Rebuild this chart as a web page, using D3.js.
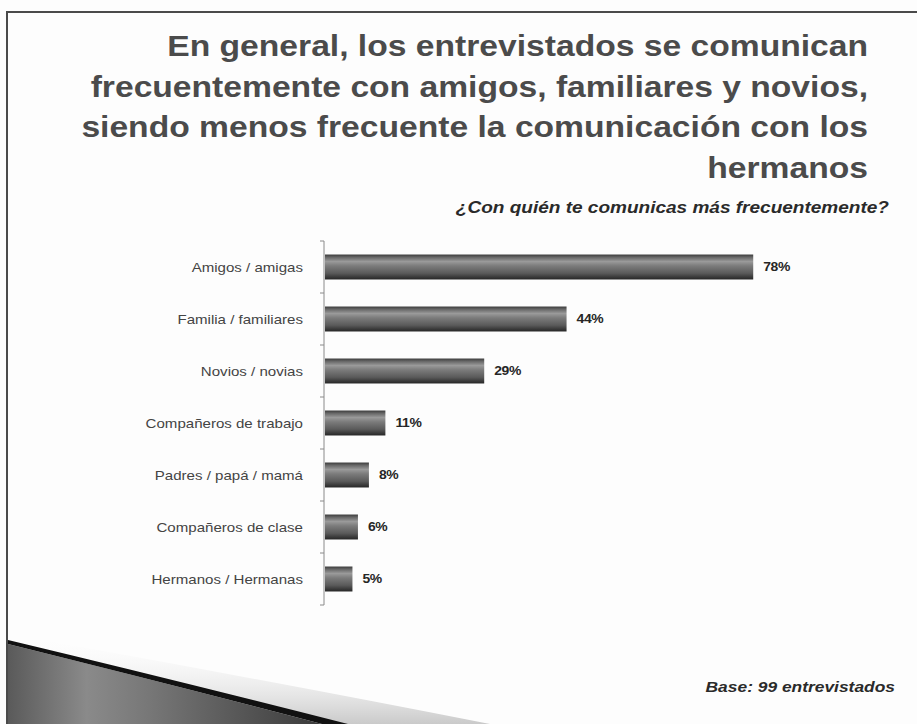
<!DOCTYPE html>
<html>
<head>
<meta charset="utf-8">
<script src="https://cdn.jsdelivr.net/npm/d3@7"></script>
<style>
  html, body { margin: 0; padding: 0; background: #fdfdfd; }
  svg { display: block; }
</style>
</head>
<body>
<svg id="chart" width="917" height="724"></svg>
<script>
// Survey answers: who respondents communicate with most often
const categories = [
  "Amigos / amigas",
  "Familia / familiares",
  "Novios / novias",
  "Compañeros de trabajo",
  "Padres / papá / mamá",
  "Compañeros de clase",
  "Hermanos / Hermanas"
];
const percentages = [78, 44, 29, 11, 8, 6, 5];

const titleLines = [
  "En general, los entrevistados se comunican",
  "frecuentemente con amigos, familiares y novios,",
  "siendo menos frecuente la comunicación con los",
  "hermanos"
];
const questionText = "¿Con quién te comunicas más frecuentemente?";
const baseText = "Base: 99 entrevistados";

const rows = categories.map((c, i) => ({ label: c, value: percentages[i] }));

const svg = d3.select("#chart");
const W = 917, H = 724;
const FONT = "'Liberation Sans', Arial, sans-serif";
// the slide's lettering is set slightly wide
const STRETCH = 1.16;
const placeText = (sel, xf, yf) =>
  sel.attr("transform", (d, i) => `translate(${xf(d, i)},${yf(d, i)}) scale(${STRETCH},1)`);

const defs = svg.append("defs");

// cylinder-like vertical shading for the bars
const barGrad = defs.append("linearGradient")
  .attr("id", "barShade").attr("x1", 0).attr("y1", 0).attr("x2", 0).attr("y2", 1);
[["0%", "#3c3c3c"], ["12%", "#6a6a6a"], ["28%", "#9a9a9a"], ["45%", "#7c7c7c"],
 ["75%", "#5a5a5a"], ["100%", "#262626"]]
  .forEach(([o, c]) => barGrad.append("stop").attr("offset", o).attr("stop-color", c));

// gradient for the decorative corner swoosh
const swGrad = defs.append("linearGradient")
  .attr("id", "swoosh").attr("x1", 0).attr("y1", 0).attr("x2", 1).attr("y2", 0);
[["0%", "#5a5a5a"], ["25%", "#8a8a8a"], ["45%", "#777"], ["100%", "#3a3a3a"]]
  .forEach(([o, c]) => swGrad.append("stop").attr("offset", o).attr("stop-color", c));

const glowGrad = defs.append("linearGradient")
  .attr("id", "glow").attr("x1", 0).attr("y1", 1).attr("x2", 0).attr("y2", 0);
[["0%", "#bdbdbd", 1], ["100%", "#ffffff", 0]]
  .forEach(([o, c, op]) => glowGrad.append("stop").attr("offset", o)
    .attr("stop-color", c).attr("stop-opacity", op));

svg.append("rect").attr("width", W).attr("height", H).attr("fill", "#fdfdfd");

// slide frame (top and left edges)
svg.append("path")
  .attr("d", "M7,724 L7,12 L917,12")
  .attr("fill", "none").attr("stroke", "#4a4a4a").attr("stroke-width", 2);

// corner swoosh
const sw = svg.append("g");
sw.append("path")
  .attr("d", "M8,634 Q240,675 490,724 L340,724 Q170,680 8,640 Z")
  .attr("fill", "url(#glow)").attr("opacity", 0.8);
sw.append("path")
  .attr("d", "M8,644 Q170,684 322,724 L8,724 Z")
  .attr("fill", "url(#swoosh)");
sw.append("path")
  .attr("d", "M8,640 Q175,680 348,724 L322,724 Q170,684 8,644 Z")
  .attr("fill", "#111");

// title
const title = svg.append("g")
  .attr("font-family", FONT)
  .attr("font-weight", "bold")
  .attr("font-size", 29)
  .attr("fill", "#4b4b4b")
  .attr("text-anchor", "end");
title.selectAll("text").data(titleLines).join("text")
  .call(placeText, () => 868, (d, i) => 56 + i * 40.5)
  .text(d => d);

svg.append("text").datum(questionText)
  .call(placeText, () => 889, () => 213)
  .attr("text-anchor", "end")
  .attr("font-family", FONT)
  .attr("font-weight", "bold").attr("font-style", "italic")
  .attr("font-size", 16.4)
  .attr("fill", "#2a2a2a")
  .text(d => d);

svg.append("text").datum(baseText)
  .call(placeText, () => 895, () => 692)
  .attr("text-anchor", "end")
  .attr("font-family", FONT)
  .attr("font-weight", "bold").attr("font-style", "italic")
  .attr("font-size", 15)
  .attr("fill", "#2a2a2a")
  .text(d => d);

// scales
const x = d3.scaleLinear().domain([0, 100]).range([324, 873]);
const y = d3.scaleBand().domain(categories).range([241, 605])
  .paddingInner(0.52).paddingOuter(0.26);

const plot = svg.append("g");

// category axis: line plus ticks at band boundaries
const step = y.step();
const boundaries = d3.range(categories.length + 1).map(i => y.range()[0] + i * step);
plot.append("line")
  .attr("x1", x(0)).attr("x2", x(0))
  .attr("y1", y.range()[0]).attr("y2", y.range()[1])
  .attr("stroke", "#8a8a8a").attr("stroke-width", 1);
plot.selectAll(".tick").data(boundaries).join("line")
  .attr("class", "tick")
  .attr("x1", x(0) - 4).attr("x2", x(0))
  .attr("y1", d => d).attr("y2", d => d)
  .attr("stroke", "#8a8a8a").attr("stroke-width", 1);

// bars
plot.selectAll(".bar").data(rows).join("rect")
  .attr("class", "bar")
  .attr("x", x(0) + 1)
  .attr("y", d => y(d.label))
  .attr("width", d => x(d.value) - x(0))
  .attr("height", y.bandwidth())
  .attr("fill", "url(#barShade)");

// category labels
plot.selectAll(".cat").data(rows).join("text")
  .attr("class", "cat")
  .call(placeText, () => 303, d => y(d.label) + y.bandwidth() / 2)
  .attr("dy", "0.35em")
  .attr("text-anchor", "end")
  .attr("font-family", FONT)
  .attr("font-size", 13)
  .attr("fill", "#444")
  .text(d => d.label);

// value labels
plot.selectAll(".val").data(rows).join("text")
  .attr("class", "val")
  .call(placeText, d => x(d.value) + 11, d => y(d.label) + y.bandwidth() / 2)
  .attr("dy", "0.35em")
  .attr("font-family", FONT)
  .attr("font-weight", "bold")
  .attr("font-size", 12)
  .attr("letter-spacing", -0.3)
  .attr("fill", "#262626")
  .text(d => d.value + "%");
</script>
</body>
</html>
